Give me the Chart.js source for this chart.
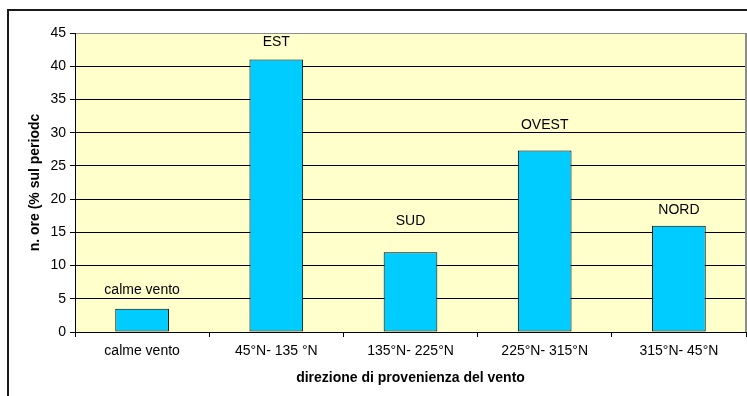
<!DOCTYPE html>
<html>
<head>
<meta charset="utf-8">
<title>direzione di provenienza del vento</title>
<script src="https://cdn.jsdelivr.net/npm/chart.js@4.4.1/dist/chart.umd.min.js"></script>
<style>
    body { margin: 0; background: #ffffff; }
    canvas { display: block; }
</style>
</head>
<body>
<canvas id="ventoChart" width="747" height="396"></canvas>
<script>
// categorie di direzione e % di ore sul periodo
let categorie = ['calme vento', '45°N- 135 °N', '135°N- 225°N', '225°N- 315°N', '315°N- 45°N'];
let oreVento = [3.5, 41.0, 12.0, 27.3, 16.0];
let nomiDirezione = ['calme vento', 'EST', 'SUD', 'OVEST', 'NORD'];
let tickY = [0, 5, 10, 15, 20, 25, 30, 35, 40, 45];

let fontName = '"Liberation Sans", Arial, sans-serif';

// sfondo giallo dell'area del grafico e cornice esterna
let sfondoPlugin = {
    id: 'sfondo',
    beforeDraw(chart) {
        let ctx = chart.ctx;
        let a = chart.chartArea;
        ctx.save();
        ctx.fillStyle = '#ffffcc';
        ctx.fillRect(a.left, a.top, a.right - a.left, a.bottom - a.top);

        ctx.strokeStyle = '#1a1a1a';
        ctx.lineWidth = 2;
        ctx.beginPath();
        ctx.moveTo(8, chart.height);
        ctx.lineTo(8, 10);
        ctx.lineTo(chart.width, 10);
        ctx.stroke();
        ctx.restore();
    },
    beforeDatasetsDraw(chart) {
        // bordo destro grigio
        let ctx = chart.ctx;
        let a = chart.chartArea;
        ctx.save();
        ctx.strokeStyle = '#8c8c8c';
        ctx.lineWidth = 2;
        ctx.beginPath();
        ctx.moveTo(a.right, a.top);
        ctx.lineTo(a.right, a.bottom);
        ctx.stroke();
        ctx.restore();
    }
};

// nome della direzione sopra ogni barra
let etichettePlugin = {
    id: 'etichette',
    afterDatasetsDraw(chart, args, opts) {
        let ctx = chart.ctx;
        let meta = chart.getDatasetMeta(0);
        ctx.save();
        ctx.font = '14px ' + fontName;
        ctx.fillStyle = '#000000';
        ctx.textAlign = 'center';
        ctx.textBaseline = 'middle';
        meta.data.forEach(function(bar, i) {
            ctx.fillText(nomiDirezione[i], bar.x, bar.y - opts.distanza[i]);
        });
        ctx.restore();
    }
};

let ctx = document.getElementById('ventoChart').getContext('2d');

let myChart = new Chart(ctx, {
    type: 'bar',
    data: {
        labels: categorie,
        datasets: [{
            label: 'n. ore',
            data: oreVento,
            backgroundColor: '#00ccff',
            borderColor: '#000000',
            borderWidth: 1,
            borderSkipped: false,
            barPercentage: 0.4,
            categoryPercentage: 1
        }]
    },
    options: {
        responsive: false,
        animation: false,
        devicePixelRatio: 1,
        layout: {
            padding: { left: 0, right: 1, top: 33, bottom: 0 }
        },
        plugins: {
            legend: { display: false },
            tooltip: { enabled: false },
            etichette: { distanza: [19, 17, 31, 25, 16] }
        },
        scales: {
            x: {
                grid: {
                    display: true,
                    drawOnChartArea: false,
                    drawTicks: true,
                    tickLength: 5,
                    color: '#000000',
                    offset: true
                },
                border: { display: true, color: '#000000', width: 1 },
                ticks: {
                    color: '#000000',
                    padding: 6,
                    maxRotation: 0,
                    autoSkip: false,
                    font: { family: fontName, size: 14 }
                },
                title: {
                    display: true,
                    text: 'direzione di provenienza del vento',
                    color: '#000000',
                    font: { family: fontName, size: 14, weight: 'bold' },
                    padding: { top: 0, bottom: 9.6 }
                },
                afterFit(scale) {
                    scale.height = 64;
                }
            },
            y: {
                min: 0,
                max: 45,
                afterBuildTicks(scale) {
                    scale.ticks = tickY.map(v => ({ value: v }));
                },
                grid: {
                    color: function(c) {
                        return c.tick && c.tick.value === 45 ? '#8c8c8c' : '#000000';
                    },
                    tickColor: '#000000',
                    tickLength: 5,
                    lineWidth: 1
                },
                border: { display: true, color: '#000000', width: 1 },
                ticks: {
                    color: '#000000',
                    padding: 4,
                    font: { family: fontName, size: 14 }
                },
                title: {
                    display: true,
                    text: 'n. ore (% sul periodc',
                    color: '#000000',
                    font: { family: fontName, size: 14, weight: 'bold' },
                    padding: { top: 26.6, bottom: 0 }
                },
                afterFit(scale) {
                    scale.width = 75;
                }
            }
        }
    },
    plugins: [sfondoPlugin, etichettePlugin]
});
</script>
</body>
</html>
